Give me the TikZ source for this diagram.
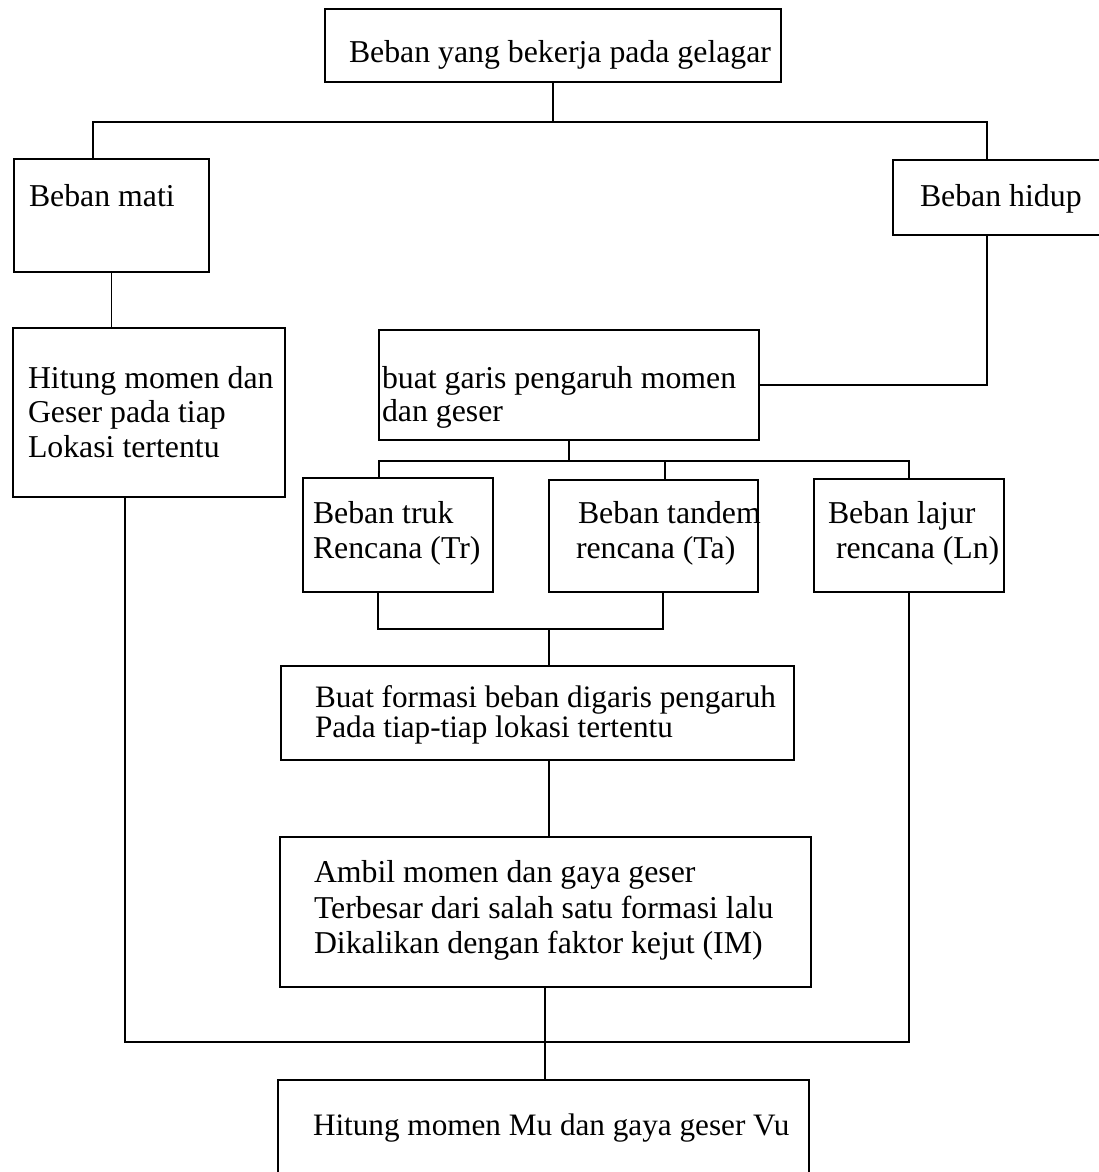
\documentclass[tikz,border=0pt]{standalone}
\usepackage{fontspec}
\setmainfont{Liberation Serif}
\begin{document}
\begin{tikzpicture}[x=1pt,y=-1pt,
  box/.style={draw, line width=1.7pt, inner sep=0pt, outer sep=0pt, anchor=north west},
  txt/.style={inner sep=0pt, outer sep=0pt, anchor=base west, font=\fontsize{31.8}{34}\selectfont},
  txtn/.style={txt, font=\fontsize{31.2}{34}\selectfont},
  link/.style={line width=1.6pt}]
\useasboundingbox (0,0) rectangle (1098,1172);
\fill[white] (0,0) rectangle (1098,1172);
% boxes
\node[box, minimum width=456pt, minimum height=73pt] (top) at (325,9) {};
\node[box, minimum width=195pt, minimum height=113pt] (mati) at (14,159) {};
\node[box, minimum width=212pt, minimum height=75pt] (hidup) at (893,160) {};
\node[box, minimum width=272pt, minimum height=169pt] (hitung) at (13,328) {};
\node[box, minimum width=380pt, minimum height=110pt] (buat) at (379,330) {};
\node[box, minimum width=190pt, minimum height=114pt] (truk) at (303,478) {};
\node[box, minimum width=209pt, minimum height=112pt] (tandem) at (549,480) {};
\node[box, minimum width=190pt, minimum height=113pt] (lajur) at (814,479) {};
\node[box, minimum width=513pt, minimum height=94pt] (formasi) at (281,666) {};
\node[box, minimum width=531pt, minimum height=150pt] (ambil) at (280,837) {};
\node[box, minimum width=531pt, minimum height=100pt] (akhir) at (278,1080) {};
% texts
\node[txt] (t1) at (349,63) {Beban yang bekerja pada gelagar};
\node[txt] (t2) at (29,206) {Beban mati};
\node[txt] (t3) at (920,206) {Beban hidup};
\node[txt] (t4a) at (28,388) {Hitung momen dan};
\node[txt] (t4b) at (28,422) {Geser pada tiap};
\node[txt] (t4c) at (28,457) {Lokasi tertentu};
\node[txt] (t5a) at (382,388) {buat garis pengaruh momen};
\node[txt] (t5b) at (382,421) {dan geser};
\node[txt] (t6a) at (313,523) {Beban truk};
\node[txt] (t6b) at (313,558) {Rencana (Tr)};
\node[txt] (t7a) at (578,523) {Beban tandem};
\node[txt] (t7b) at (576,558) {rencana (Ta)};
\node[txt] (t8a) at (828,523) {Beban lajur};
\node[txt] (t8b) at (836,558) {rencana (Ln)};
\node[txtn] (t9a) at (315,707) {Buat formasi beban digaris pengaruh};
\node[txtn] (t9b) at (315,737) {Pada tiap-tiap lokasi tertentu};
\node[txt] (t10a) at (314,882) {Ambil momen dan gaya geser};
\node[txt] (t10b) at (314,918) {Terbesar dari salah satu formasi lalu};
\node[txt] (t10c) at (314,953) {Dikalikan dengan faktor kejut (IM)};
\node[txtn] (t11) at (313,1135) {Hitung momen Mu dan gaya geser Vu};
% junction coordinates
\coordinate (hl) at (93,122);
\coordinate (hr) at (987,122);
\coordinate (bl) at (379,461);
\coordinate (bt) at (665,461);
\coordinate (br) at (909,461);
\coordinate (ml) at (378,629);
\coordinate (mr) at (663,629);
\coordinate (mm) at (549,629);
\coordinate (lb) at (125,1042);
\coordinate (rb) at (909,1042);
\coordinate (cb) at (545,1042);
% connectors
\draw[link] (top.south) -- (top.south |- hl);
\draw[link] (mati.north -| hl) -- (hl) -- (hr) -- (hidup.north -| hr);
\draw[link] (mati.south) -- (mati.south |- hitung.north);
\draw[link] (hidup.south -| hr) |- (buat.east);
\draw[link] (buat.south) -- (buat.south |- bl);
\draw[link] (truk.north -| bl) -- (bl) -- (br) -- (lajur.north -| br);
\draw[link] (bt) -- (tandem.north -| bt);
\draw[link] (truk.south -| ml) -- (ml) -- (mr) -- (tandem.south -| mr);
\draw[link] (mm) -- (formasi.north -| mm);
\draw[link] (formasi.south -| mm) -- (ambil.north -| mm);
\draw[link] (hitung.south -| lb) -- (lb) -- (rb) -- (lajur.south -| rb);
\draw[link] (ambil.south -| cb) -- (akhir.north -| cb);
\end{tikzpicture}
\end{document}
